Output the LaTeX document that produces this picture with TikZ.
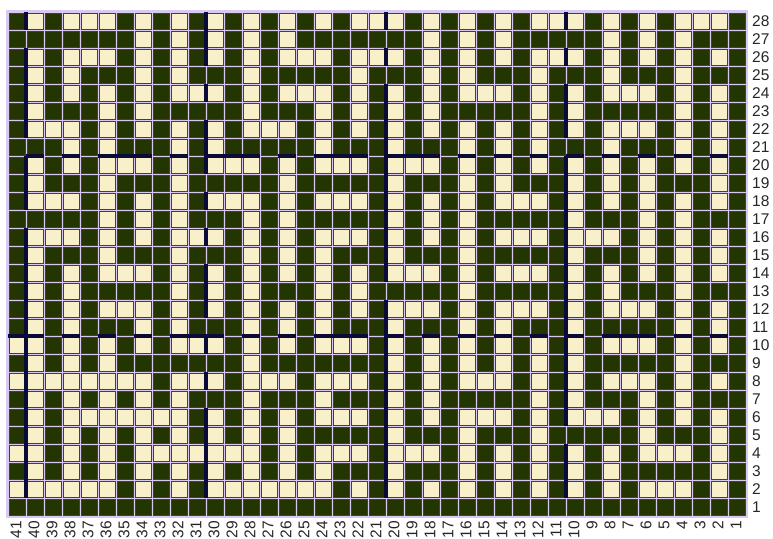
\documentclass[tikz,border=0pt]{standalone}
\usepackage{fontspec}
\setmainfont{Liberation Sans}
\definecolor{dk}{HTML}{233500}
\definecolor{lt}{HTML}{F7F0C8}
\definecolor{lav}{HTML}{D8C8F2}
\definecolor{nv}{HTML}{0B0B3A}
\begin{document}
\begin{tikzpicture}[x=1pt,y=-1pt,
  stitch/.style={draw=black!75,line width=0.7pt},
  tenline/.style={draw=nv,line width=3.2pt},
  lab/.style={inner sep=0pt,font=\fontsize{15.5}{15.5}\selectfont,text=black!85}]
\useasboundingbox (0,0) rectangle (773,538);
\fill[lav] (6,10) rectangle (748,518);
\foreach \r/\s [count=\j from 0] in {
28/{1,0,1,0,0,0,1,0,1,0,1,0,1,0,1,0,1,0,1,0,0,0,1,0,1,0,1,0,1,0,0,0,1,0,1,0,1,0,0,0,1},
27/{1,1,1,1,1,1,1,0,1,0,1,0,1,0,1,0,1,1,1,1,1,1,1,0,1,0,1,0,1,1,1,1,1,0,1,0,1,0,1,1,1},
26/{1,0,1,0,0,0,1,0,1,0,1,0,1,0,1,0,0,0,1,0,0,0,1,0,1,0,1,0,1,0,0,0,1,0,1,0,1,0,1,0,1},
25/{1,0,1,0,1,1,1,0,1,0,1,1,1,0,1,1,1,1,1,0,1,1,1,0,1,0,1,1,1,0,1,1,1,0,1,1,1,0,1,1,1},
24/{1,0,1,0,1,0,1,0,1,0,0,0,1,0,1,0,0,0,1,0,1,0,1,0,1,0,0,0,1,0,1,0,1,0,0,0,1,0,1,0,1},
23/{1,0,1,1,1,0,1,0,1,1,1,1,1,0,1,1,1,0,1,0,1,0,1,0,1,1,1,1,1,0,1,0,1,1,1,1,1,0,1,0,1},
22/{1,0,0,0,1,0,1,0,1,0,1,0,1,0,0,0,1,0,1,0,1,0,1,0,1,0,1,0,1,0,1,0,1,0,0,0,1,0,1,0,1},
21/{1,1,1,0,1,0,1,1,1,0,1,0,1,1,1,1,1,0,1,1,1,0,1,1,1,0,1,0,1,0,1,1,1,0,1,1,1,0,1,0,1},
20/{1,0,1,0,1,0,0,0,1,0,1,0,0,0,1,0,1,0,0,0,1,0,0,0,1,0,1,0,1,0,1,0,1,0,1,0,1,0,1,0,1},
19/{1,0,1,1,1,0,1,1,1,0,1,1,1,1,1,0,1,1,1,1,1,0,1,1,1,0,1,0,1,1,1,0,1,0,1,0,1,1,1,0,1},
18/{1,0,0,0,1,0,1,0,1,0,1,0,0,0,1,0,1,0,0,0,1,0,1,0,1,0,1,0,0,0,1,0,1,0,1,0,1,0,1,0,1},
17/{1,1,1,1,1,0,1,0,1,0,1,1,1,0,1,0,1,1,1,1,1,0,1,0,1,0,1,1,1,1,1,0,1,1,1,0,1,0,1,1,1},
16/{1,0,0,0,1,0,1,0,1,0,0,0,1,0,1,0,1,0,0,0,1,0,1,0,1,0,1,0,0,0,1,0,0,0,1,0,1,0,1,0,1},
15/{1,0,1,1,1,0,1,1,1,0,1,1,1,0,1,0,1,0,1,1,1,0,1,1,1,0,1,1,1,1,1,0,1,1,1,0,1,0,1,0,1},
14/{1,0,1,0,1,0,0,0,1,0,1,0,1,0,1,0,1,0,1,0,1,0,0,0,1,0,1,0,0,0,1,0,1,0,1,0,1,0,1,0,1},
13/{1,0,1,0,1,1,1,1,1,0,1,0,1,0,1,1,1,0,1,0,1,1,1,1,1,0,1,1,1,1,1,0,1,0,1,1,1,0,1,1,1},
12/{1,0,1,0,1,0,0,0,1,0,1,0,1,0,1,0,1,0,1,0,1,0,0,0,1,0,1,0,0,0,1,0,1,0,0,0,1,0,1,0,1},
11/{1,0,1,0,1,1,1,0,1,0,1,1,1,0,1,0,1,0,1,1,1,0,1,1,1,0,1,0,1,1,1,0,1,1,1,1,1,0,1,0,1},
10/{0,0,1,0,1,0,1,0,1,0,0,0,1,0,1,0,1,0,0,0,1,0,1,0,1,0,1,0,1,0,1,0,1,0,0,0,1,0,1,0,1},
9/{1,0,1,0,1,0,1,1,1,1,1,1,1,0,1,1,1,1,1,1,1,0,1,0,1,0,1,0,1,0,1,0,1,1,1,1,1,0,1,1,1},
8/{0,0,0,0,0,0,0,0,1,0,0,0,1,0,0,0,1,0,0,0,1,0,1,0,1,0,0,0,1,0,1,0,1,0,0,0,1,0,1,0,1},
7/{1,0,1,0,1,0,1,0,1,0,1,1,1,0,1,1,1,0,1,1,1,0,1,0,1,1,1,1,1,0,1,0,1,1,1,0,1,0,1,1,1},
6/{1,0,1,0,0,0,0,0,0,0,1,0,1,0,1,0,1,0,0,0,1,0,1,0,1,0,0,0,1,0,1,0,0,0,1,0,1,0,1,0,1},
5/{1,0,1,0,1,0,1,0,1,0,1,0,1,0,1,0,1,1,1,1,1,0,1,1,1,0,1,1,1,0,1,1,1,1,1,0,1,1,1,0,1},
4/{0,0,1,0,1,0,1,0,0,0,0,0,0,0,1,0,1,0,0,0,1,0,0,0,1,0,1,0,1,0,1,0,1,0,1,0,0,0,1,0,1},
3/{1,0,1,0,1,0,1,0,1,0,1,0,1,0,1,0,1,0,1,1,1,0,1,1,1,0,1,0,1,0,1,0,1,0,1,1,1,1,1,0,1},
2/{0,0,0,0,0,0,1,0,1,0,1,0,0,0,0,0,0,0,1,0,1,0,1,0,1,0,1,0,1,0,1,0,1,0,1,0,0,0,1,0,1},
1/{1,1,1,1,1,1,1,1,1,1,1,1,1,1,1,1,1,1,1,1,1,1,1,1,1,1,1,1,1,1,1,1,1,1,1,1,1,1,1,1,1}}{
  \foreach \v [count=\i from 0] in \s {
    \expandafter\xdef\csname cl@\i @\r\endcsname{\v}
    \ifnum\v=1\relax
      \path[stitch,fill=dk] ({9+18*\i},{13+18*\j}) rectangle ++(16,16);
    \else
      \path[stitch,fill=lt] ({9+18*\i},{13+18*\j}) rectangle ++(16,16);
    \fi
  }
}
% ten-stitch lines (vertical)
\foreach \bb in {1,11,21,31}{
  \pgfmathtruncatemacro\bm{\bb-1}
  \foreach \r [count=\j from 0] in {28,27,...,1}{
    \ifnum\numexpr\csname cl@\bm @\r\endcsname+\csname cl@\bb @\r\endcsname\relax<2
      \draw[tenline] ({8+18*\bb},{12+18*\j}) -- ++(0,18);
    \fi
  }
}
% ten-row lines (horizontal)
\foreach \ra/\rb/\yy in {21/20/156,11/10/336}{
  \foreach \i in {0,...,40}{
    \ifnum\numexpr\csname cl@\i @\ra\endcsname+\csname cl@\i @\rb\endcsname\relax<2
      \draw[tenline] ({8+18*\i},\yy) -- ++(18,0);
    \fi
  }
}
% column labels
\foreach \i in {0,...,40}{
  \pgfmathtruncatemacro\n{41-\i}
  \node[lab,rotate=90,anchor=east] (c\n) at ({16+18*\i},521) {\n};
}
% row labels
\foreach \j in {0,...,27}{
  \pgfmathtruncatemacro\n{28-\j}
  \node[lab,anchor=west] (r\n) at (752,{21+18*\j}) {\n};
}
\end{tikzpicture}
\end{document}
